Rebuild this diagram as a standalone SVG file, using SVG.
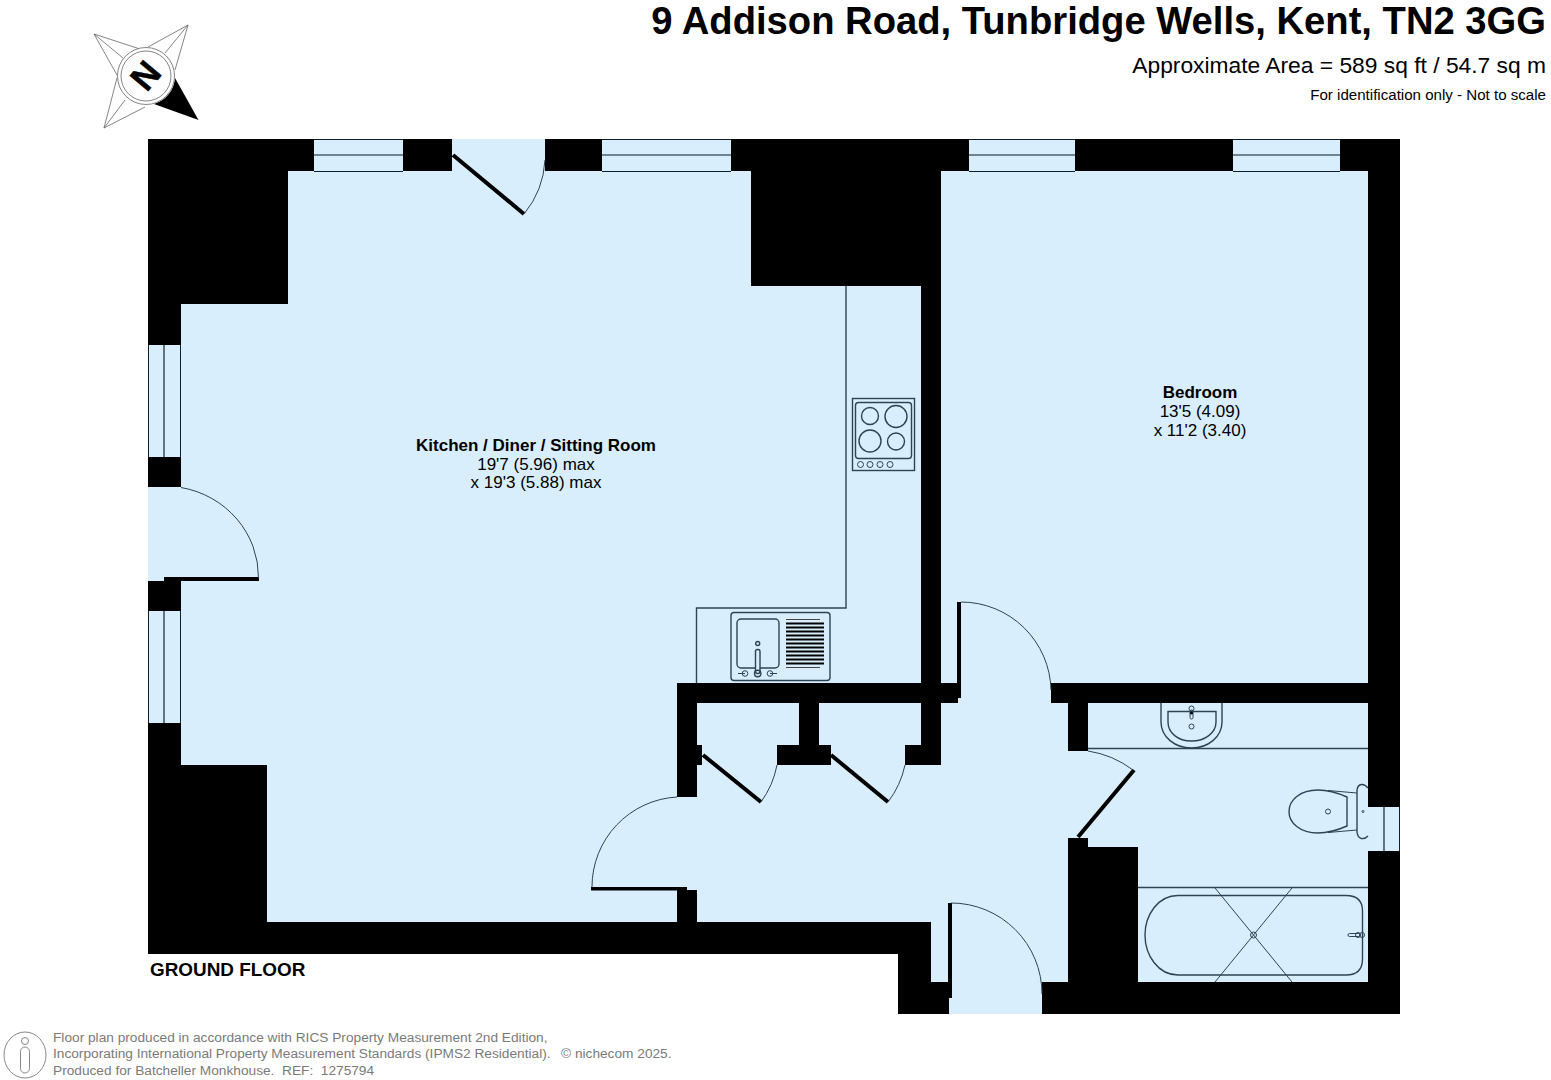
<svg xmlns="http://www.w3.org/2000/svg" width="1551" height="1080" viewBox="0 0 1551 1080">
<style>
text{font-family:"Liberation Sans",Arial,sans-serif;fill:#000;white-space:pre}
.p{fill:#d9eefc}
.k{fill:#000}
.l{fill:none;stroke:#2c4454;stroke-width:1}
.l2{fill:none;stroke:#2c4454;stroke-width:1.4}
.c{fill:none;stroke:#4d5f6a;stroke-width:1.7}
.e{fill:none;stroke:#10202a;stroke-width:1}
.g{fill:none;stroke:#666;stroke-width:.8}
.leaf{fill:none;stroke:#000;stroke-width:4}
.lab{font-size:17px;text-anchor:middle}
.b{font-weight:bold}
.f{font-size:13.700px;fill:#7a7a7a}
</style>
<rect width="1551" height="1080" fill="#fff"/>
<g id="walls"><path class="k" d="M148 139H1400V1014H898V954H148Z"/></g>
<g id="rooms">
<path id="kitchen-hall" class="p" d="M288 171H751V286H921V703H1068V982H931V922H267V765H181V304H288Z"/>
<path id="bedroom" class="p" d="M941 171H1368V683H1051V703H958V683H941Z"/>
<path id="bathroom" class="p" d="M1088 703H1368V982H1138V847H1088V838H1068V751H1088Z"/>
<rect class="p" x="949" y="982" width="93" height="32"/>
<rect class="p" x="452" y="139" width="93" height="33"/>
<path class="p" d="M148 487H182V577H164V581H148Z"/>
</g>
<g id="inner-walls" class="k">
<rect x="677" y="683" width="264" height="20"/>
<rect x="677" y="683" width="20" height="114"/>
<rect x="697" y="745" width="5" height="20"/>
<rect x="799" y="703" width="20" height="62"/>
<rect x="777" y="745" width="54" height="20"/>
<rect x="921" y="703" width="20" height="62"/>
<rect x="905" y="745" width="36" height="20"/>
<rect x="677" y="890" width="20" height="33"/>
<rect x="148" y="581" width="33" height="30"/>
</g>
<g id="windows">
<g id="w1"><rect class="p" x="314" y="139" width="89" height="32"/><path class="c" d="M314 155H403"/><path class="e" d="M314 139.500H403M314 171.500H403"/></g>
<g id="w2"><rect class="p" x="602" y="139" width="129" height="32"/><path class="c" d="M602 155H731"/><path class="e" d="M602 139.500H731M602 171.500H731"/></g>
<g id="w3"><rect class="p" x="969" y="139" width="106" height="32"/><path class="c" d="M969 155H1075"/><path class="e" d="M969 139.500H1075M969 171.500H1075"/></g>
<g id="w4"><rect class="p" x="1233" y="139" width="107" height="32"/><path class="c" d="M1233 155H1340"/><path class="e" d="M1233 139.500H1340M1233 171.500H1340"/></g>
<g id="w5"><rect class="p" x="148" y="345" width="33" height="112"/><path class="c" d="M164 345V457"/><path class="e" d="M148.500 345V457M180.500 345V457"/></g>
<g id="w6"><rect class="p" x="148" y="611" width="33" height="112"/><path class="c" d="M164 611V723"/><path class="e" d="M148.500 611V723M180.500 611V723"/></g>
<g id="w7"><rect class="p" x="1368" y="807" width="32" height="44"/><path class="c" d="M1384 807V851"/><path class="e" d="M1399.500 807V851"/></g>
</g>
<g id="doors">
<path class="leaf" d="M453 155L524 214"/><path class="l" d="M545 160A92 92 0 0 1 524 214"/>
<rect class="k" x="164" y="577" width="95" height="4"/><path class="l" d="M181 487.500A94 91 0 0 1 258.500 578"/>
<path class="leaf" d="M703 755L761 802"/><path class="l" d="M777 765A92 92 0 0 1 761 802"/>
<path class="leaf" d="M831 755L888 802"/><path class="l" d="M905 765A92 92 0 0 1 888 802"/>
<rect class="k" x="591" y="887" width="96" height="3.500"/><path class="l" d="M677 797A90 90 0 0 0 592 887"/>
<rect class="k" x="957" y="602" width="4" height="96"/><path class="l" d="M961 602A90 90 0 0 1 1051 690"/>
<rect class="k" x="948" y="903" width="4" height="95"/><path class="l" d="M951 903A91 91 0 0 1 1042 994"/>
<path class="leaf" d="M1078 837L1134 770"/><path class="l" d="M1088 751A100 100 0 0 1 1133 770"/>
</g>
<g id="kitchen-fittings">
<path class="l2" d="M846 286V608H696.500V683"/>
<g id="hob">
<rect class="l2" x="852.500" y="398.500" width="62" height="72"/>
<rect class="l2" x="855.500" y="402.500" width="56" height="56" rx="3"/>
<circle class="l2" cx="870" cy="416" r="8.500"/><circle class="l2" cx="896" cy="416.500" r="11"/>
<circle class="l2" cx="870" cy="441" r="11"/><circle class="l2" cx="896" cy="441.500" r="8.500"/>
<circle class="l" cx="860.500" cy="464.500" r="3"/><circle class="l" cx="870" cy="464.500" r="3"/><circle class="l" cx="880" cy="464.500" r="3"/><circle class="l" cx="890" cy="464.500" r="3"/>
</g>
<g id="sink">
<rect class="l2" x="731" y="612.500" width="99" height="68" rx="3"/>
<rect class="l2" x="737" y="619" width="42" height="49" rx="4"/>
<path d="M786 619.500H820M786 667.500H820" stroke="#444" stroke-width="1" fill="none"/>
<path d="M786 623.500H824M786 627.500H824M786 631.500H824M786 635.500H824M786 639.500H824M786 643.500H824M786 647.500H824M786 651.500H824M786 655.500H824M786 659.500H824M786 663.500H824" stroke="#000" stroke-width="1.800" fill="none"/>
<circle class="l2" cx="757.700" cy="643.500" r="2"/>
<rect class="p" x="755.500" y="649.500" width="4.500" height="24" rx="2"/>
<rect class="l2" x="755.500" y="649.500" width="4.500" height="24" rx="2"/>
<circle class="l2" cx="757.700" cy="673.500" r="3.200"/>
<circle class="l" cx="745" cy="673.500" r="2.800"/><path class="l" d="M738 673.500H745"/>
<circle class="l" cx="770" cy="673.500" r="2.800"/><path class="l" d="M770 673.500H777"/>
</g>
</g>
<g id="bathroom-fittings">
<path class="l2" d="M1088 748.500H1368M1138 887.500H1368"/>
<g id="basin">
<path class="l2" d="M1161 703V722C1161 737 1175 748 1191.500 748S1222 737 1222 722V703"/>
<path class="l2" d="M1168 711.500H1216V722C1216 733 1205 741 1191.500 741S1168 733 1168 722Z"/>
<circle class="l" cx="1191.500" cy="708.500" r="2.500"/><rect class="l" x="1190" y="710" width="3" height="9" rx="1.500"/>
<circle class="k" cx="1191.500" cy="713" r="1.500"/>
<circle class="l" cx="1191.500" cy="726.500" r="2.500"/>
</g>
<g id="toilet">
<path class="l2" d="M1347 797C1338 793 1328 790 1318 790C1300 790 1289 800 1289 811.500C1289 823 1300 833 1318 833C1328 833 1338 830 1347 826Z"/>
<path class="l" d="M1328 790.500L1357 793M1328 832.500L1357 830"/>
<path class="l2" d="M1368 788C1364 783 1358 783 1357 790V832C1358 840 1364 840 1368 836"/>
<circle class="l" cx="1328" cy="811.500" r="2.500"/><circle class="l" cx="1363" cy="811.500" r="1"/>
</g>
<g id="bath">
<path class="l2" d="M1178 895.500H1346Q1362.500 895.500 1362.500 911V959Q1362.500 975 1346 975H1178C1158 975 1145 955 1145 935S1158 895.500 1178 895.500Z"/>
<path class="l" d="M1215 888L1292 982M1292 888L1215 982"/>
<circle class="l" cx="1253.500" cy="935" r="3"/>
<rect class="l" x="1348" y="933.500" width="12" height="3" rx="1.500"/><circle class="l" cx="1358" cy="935" r="2.500"/><circle class="l" cx="1362" cy="935" r="2.500"/>
</g>
</g>
<g id="compass">
<path class="g" d="M188 25L148 47M188 25L175 70M188 25L165 53M94 34L140 49M94 34L117 75M94 34L123 58M104 128L117 78M104 128L145 107M104 128L125 100"/>
<path class="k" d="M198.500 120L154 104A29 29 0 0 0 175 78Z"/>
<circle cx="146" cy="76" r="28.500" fill="#fff" stroke="#777" stroke-width=".9"/>
<circle cx="146" cy="76" r="25" fill="#fff" stroke="#777" stroke-width=".9"/>
<text class="b" x="0" y="0" font-size="35" text-anchor="middle" stroke="#000" stroke-width=".5" transform="translate(146 76) rotate(130) translate(0 12.500)">N</text>
</g>
<g id="title">
<text class="b" x="1546" y="34" font-size="38.200" text-anchor="end">9 Addison Road, Tunbridge Wells, Kent, TN2 3GG</text>
<text x="1546" y="73" font-size="22.800" text-anchor="end">Approximate Area = 589 sq ft / 54.7 sq m</text>
<text x="1546" y="100" font-size="15.100" text-anchor="end">For identification only - Not to scale</text>
</g>
<g id="labels">
<text class="lab b" x="536" y="451">Kitchen / Diner / Sitting Room</text>
<text class="lab" x="536" y="470">19'7 (5.96) max</text>
<text class="lab" x="536" y="488">x 19'3 (5.88) max</text>
<text class="lab b" x="1200" y="398">Bedroom</text>
<text class="lab" x="1200" y="417">13'5 (4.09)</text>
<text class="lab" x="1200" y="436">x 11'2 (3.40)</text>
<text class="b" x="150" y="976" font-size="18.900">GROUND FLOOR</text>
</g>
<g id="footer">
<ellipse cx="25" cy="1055" rx="21" ry="23" fill="none" stroke="#888" stroke-width="1"/>
<circle cx="25" cy="1041" r="3.500" fill="none" stroke="#888"/>
<rect x="20.500" y="1047" width="9" height="26" rx="4.500" fill="none" stroke="#888"/>
<text class="f" x="53" y="1042">Floor plan produced in accordance with RICS Property Measurement 2nd Edition,</text>
<text class="f" x="53" y="1058">Incorporating International Property Measurement Standards (IPMS2 Residential).</text>
<text class="f" x="561" y="1058" font-size="13.400">© nichecom 2025.</text>
<text class="f" x="53" y="1075">Produced for Batcheller Monkhouse.  REF:  1275794</text>
</g>
</svg>
